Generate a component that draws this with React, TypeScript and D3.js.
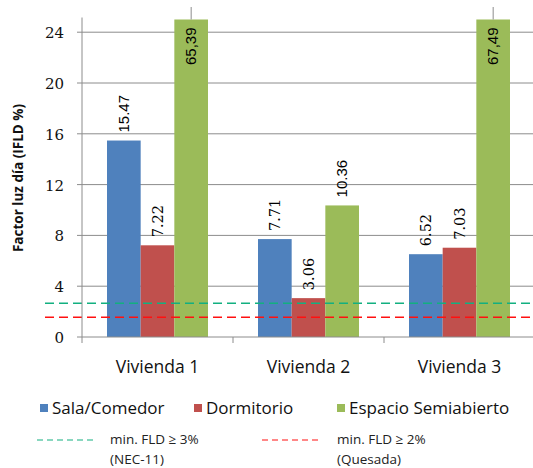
import React from "react";
import * as d3 from "d3";

const categories = ["Vivienda 1", "Vivienda 2", "Vivienda 3"];
const seriesNames = ["Sala/Comedor", "Dormitorio", "Espacio Semiabierto"];
const salaComedor = [15.47, 7.71, 6.52];
const dormitorio = [7.22, 3.06, 7.03];
const espacioSemiabierto = [65.39, 10.36, 67.49];
const yTicks = [0, 4, 8, 12, 16, 20, 24];
const yMax = 25;
const refNames = ["min. FLD ≥ 3%", "min. FLD ≥ 2%"];
const refNotes = ["(NEC-11)", "(Quesada)"];
const refValues = [2.65, 1.55];

const colors = ["#4F81BD", "#C0504D", "#9BBB59"];
const refColors = ["#12B080", "#FF1010"];
// labels set in a serif face (series-category)
const serifLabels = new Set(["1-0", "0-1", "1-1", "0-2", "1-2"]);

const W = 533, H = 468;
const left = 82, right = 535, top = 19.5, bottom = 337;

export default function App() {
  const series = [salaComedor, dormitorio, espacioSemiabierto];
  const x = d3.scaleBand<string>().domain(categories).range([left, right]);
  const bw = x.bandwidth();
  const xs = d3.scaleBand<number>().domain([0, 1, 2]).range([25, bw - 25]);
  const y = d3.scaleLinear().domain([0, yMax]).range([bottom, top]);
  const fmt = d3.format(".2f");

  return (
    <svg width={W} height={H} style={{ position: "absolute", left: 0, top: 0, background: "#fff" }}>
      {/* grid */}
      {yTicks.filter(t => t > 0).map(t => (
        <line key={t} x1={left} x2={W} y1={y(t)} y2={y(t)} stroke="#8c8c8c" strokeWidth={1} />
      ))}
      {/* bars */}
      {series.map((vals, si) =>
        vals.map((v, ci) => {
          const bx = x(categories[ci])! + xs(si)!;
          const clipped = v > yMax;
          const yt = y(Math.min(v, yMax));
          return (
            <g key={`${si}-${ci}`}>
              <rect x={bx} y={yt} width={xs.bandwidth()} height={bottom - yt} fill={colors[si]} />
              {clipped && (
                <line x1={bx + xs.bandwidth() / 2} x2={bx + xs.bandwidth() / 2} y1={7} y2={yt} stroke="#8c8c8c" strokeWidth={1} />
              )}
            </g>
          );
        })
      )}
      {/* reference lines */}
      {refValues.map((v, i) => (
        <line key={i} x1={45} x2={W} y1={y(v)} y2={y(v)} stroke={refColors[i]} strokeWidth={1.5} strokeDasharray="9,5" />
      ))}
      {/* data labels */}
      {series.map((vals, si) =>
        vals.map((v, ci) => {
          const cx = x(categories[ci])! + xs(si)! + xs.bandwidth() / 2;
          const clipped = v > yMax;
          const txt = clipped ? fmt(v).replace(".", ",") : fmt(v);
          const serif = serifLabels.has(`${si}-${ci}`);
          const ty = clipped ? y(yMax) + 8 : y(v) - 8;
          return (
            <text
              key={`l${si}-${ci}`}
              transform={`translate(${cx + 5},${ty}) rotate(-90)`}
              textAnchor={clipped ? "end" : "start"}
              fontFamily={serif ? "DejaVu Serif" : "Liberation Sans"}
              fontSize={serif ? 14.5 : 15}
              fill="#000"
            >
              {txt}
            </text>
          );
        })
      )}
      {/* axes */}
      <line x1={left} x2={left} y1={top - 2} y2={bottom} stroke="#8c8c8c" />
      <line x1={left} x2={W} y1={bottom} y2={bottom} stroke="#8c8c8c" />
      {yTicks.map(t => (
        <g key={`t${t}`}>
          <line x1={left - 5} x2={left} y1={y(t)} y2={y(t)} stroke="#8c8c8c" />
          <text x={64} y={y(t) + 6} textAnchor="end" fontFamily="DejaVu Serif" fontSize={15} fill="#111">{t}</text>
        </g>
      ))}
      {[...categories.map(c => x(c)!), right].map((px, i) => (
        <line key={`xt${i}`} x1={px} x2={px} y1={bottom} y2={bottom + 6} stroke="#8c8c8c" />
      ))}
      {categories.map(c => (
        <text key={c} x={x(c)! + bw / 2} y={373} textAnchor="middle" fontFamily="Open Sans" fontSize={17.5} fill="#111">{c}</text>
      ))}
      <text transform={`translate(23,178) rotate(-90)`} textAnchor="middle" fontFamily="Open Sans" fontWeight="bold" fontSize={13.5} fill="#111">
        Factor luz día (IFLD %)
      </text>
      {/* legend */}
      {seriesNames.map((n, i) => {
        const lx = [40, 194, 337][i];
        return (
          <g key={n}>
            <rect x={lx} y={404} width={8} height={8} fill={colors[i]} />
            <text x={lx + 12} y={414} fontFamily="Open Sans" fontSize={17} fill="#111">{n}</text>
          </g>
        );
      })}
      {refNames.map((n, i) => {
        const lx = [37, 262][i];
        const tx = [110, 337][i];
        return (
          <g key={n}>
            <line x1={lx} x2={lx + 59} y1={440} y2={440} stroke={refColors[i]} strokeWidth={1.2} strokeDasharray="6,4" />
            <text x={tx} y={444} fontFamily="Open Sans" fontSize={13.5} fill="#222">{n}</text>
            <text x={tx} y={464} fontFamily="Open Sans" fontSize={13.5} fill="#222">{refNotes[i]}</text>
          </g>
        );
      })}
    </svg>
  );
}
